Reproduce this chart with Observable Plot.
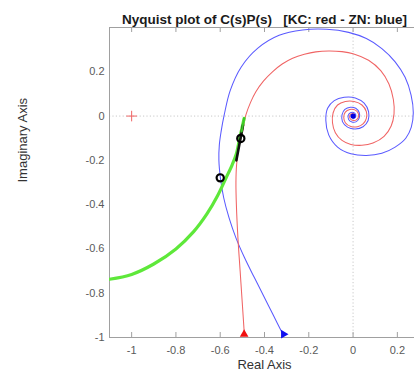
<!DOCTYPE html>
<html><head><meta charset="utf-8">
<script src="https://cdn.jsdelivr.net/npm/d3@7"></script>
<script src="https://cdn.jsdelivr.net/npm/@observablehq/plot@0.6"></script>
<style>body{margin:0;background:#fff} svg{display:block}</style>
</head><body><div id="chart"></div>
<script>
const title = "Nyquist plot of C(s)P(s)   [KC: red - ZN: blue]";
const xLabel = "Real Axis";
const yLabel = "Imaginary Axis";
const xTicks = [-1, -0.8, -0.6, -0.4, -0.2, 0, 0.2];
const yTicks = [-1, -0.8, -0.6, -0.4, -0.2, 0, 0.2];

// KC (red) Nyquist curve, [Re, Im]
const kcCurve = [
  [-0.491,-0.985],[-0.5,-0.85],[-0.51,-0.7],[-0.52,-0.55],[-0.527,-0.4],[-0.529,-0.3],[-0.526,-0.22],
  [-0.516,-0.14],[-0.499,-0.071],[-0.484,0.005],[-0.463,0.062],[-0.439,0.11],[-0.405,0.158],
  [-0.364,0.2],[-0.32,0.235],[-0.273,0.261],[-0.22,0.279],[-0.168,0.29],[-0.11,0.294],[-0.05,0.291],
  [0.0,0.282],[0.07,0.252],[0.125,0.205],[0.162,0.145],[0.182,0.075],[0.185,0.01],[0.172,-0.045],
  [0.14,-0.092],[0.09,-0.122],[0.04,-0.132],[-0.01,-0.128],[-0.05,-0.11],[-0.08,-0.075],[-0.093,-0.03],
  [-0.09,0.015],[-0.07,0.05],[-0.035,0.066],[0.005,0.066],[0.04,0.05],[0.06,0.02],[0.06,-0.01],
  [0.045,-0.035],[0.02,-0.048],[-0.01,-0.047],[-0.035,-0.03],[-0.042,-0.005],[-0.035,0.018],
  [-0.015,0.03],[0.008,0.028],[0.022,0.015],[0.025,-0.003],[0.015,-0.017],[0,-0.02],[-0.013,-0.012],
  [-0.015,0.002],[-0.008,0.01],[0.003,0.01],[0.008,0.002],[0.004,-0.005],[0,0]
];
// ZN (blue) Nyquist curve, [Re, Im]
const znCurve = [
  [-0.317,-0.985],[-0.36,-0.9],[-0.405,-0.81],[-0.447,-0.727],[-0.49,-0.64],[-0.529,-0.55],
  [-0.56,-0.46],[-0.584,-0.37],[-0.599,-0.28],[-0.606,-0.2],[-0.604,-0.13],[-0.596,-0.07],
  [-0.582,0.005],[-0.555,0.115],[-0.505,0.222],[-0.43,0.307],[-0.334,0.365],[-0.228,0.389],
  [-0.12,0.392],[-0.02,0.378],[0.06,0.35],[0.13,0.305],[0.19,0.245],[0.235,0.175],[0.262,0.095],
  [0.272,0.015],[0.263,-0.05],[0.238,-0.1],[0.19,-0.14],[0.13,-0.168],[0.06,-0.178],
  [-0.01,-0.17],[-0.07,-0.14],[-0.11,-0.085],[-0.123,-0.02],[-0.115,0.035],[-0.085,0.07],
  [-0.04,0.085],[0.01,0.082],[0.05,0.058],[0.07,0.02],[0.068,-0.02],[0.045,-0.048],[0.01,-0.058],
  [-0.025,-0.05],[-0.048,-0.025],[-0.05,0.005],[-0.037,0.03],[-0.012,0.04],[0.012,0.035],
  [0.028,0.015],[0.028,-0.008],[0.015,-0.025],[-0.005,-0.027],[-0.02,-0.015],[-0.022,0.003],
  [-0.012,0.015],[0.002,0.016],[0.012,0.006],[0.01,-0.006],[0,-0.009],[-0.006,-0.002],[0,0]
];
// green arc
const greenArc = [
  [-1.1,-0.737],[-1.0,-0.715],[-0.9,-0.668],[-0.8,-0.6],[-0.72,-0.522],[-0.66,-0.442],
  [-0.612,-0.36],[-0.574,-0.28],[-0.546,-0.22],[-0.527,-0.17],[-0.512,-0.1],[-0.492,-0.01]
];
// black segment
const blackSeg = [[-0.527,-0.2],[-0.497,-0.04]];
const greenTop = [[-0.503,-0.07],[-0.492,-0.01]];
// open circle markers
const circlePts = [[-0.507,-0.101],[-0.6,-0.279]];
const startKC = [[-0.492,-0.985]];
const startZN = [[-0.314,-0.985]];
const criticalPt = [[-1,0]];
const origin = [[0,0]];

const RED = "#f06464", BLUE = "#5a5aff";
const chart = Plot.plot({
  width: 414, height: 378,
  marginLeft: 109, marginTop: 27, marginBottom: 41, marginRight: -5,
  style: {fontFamily: "'Liberation Sans', Arial, sans-serif", fontSize: "11px", background: "#fff", color: "#5a5a5a"},
  x: {domain: [-1.1, 0.3]},
  y: {domain: [-1, 0.4]},
  marks: [
    Plot.ruleX([0], {stroke: "#c8c8c8", strokeDasharray: "1.2,2.2"}),
    Plot.ruleY([0], {stroke: "#c8c8c8", strokeDasharray: "1.2,2.2"}),
    Plot.frame({stroke: "#a0a0a0"}),
    Plot.tickX(xTicks, {x: d => d, insetTop: 305, stroke: "#a0a0a0"}),
    Plot.tickX(xTicks, {x: d => d, insetBottom: 305, stroke: "#a0a0a0"}),
    Plot.tickY(yTicks, {y: d => d, insetRight: 310, stroke: "#a0a0a0"}),
    Plot.axisX(xTicks, {tickSize: 0, tickPadding: 9, label: null, tickFormat: d => String(d)}),
    Plot.axisY(yTicks, {tickSize: 0, tickPadding: 5, label: null, tickFormat: d => String(d)}),
    Plot.line(znCurve, {x: d => d[0], y: d => d[1], stroke: BLUE, strokeWidth: 1.05, curve: "catmull-rom", clip: true}),
    Plot.line(kcCurve, {x: d => d[0], y: d => d[1], stroke: RED, strokeWidth: 1.05, curve: "catmull-rom", clip: true}),
    Plot.line(greenArc, {x: d => d[0], y: d => d[1], stroke: "#5ee83a", strokeWidth: 3.2, curve: "catmull-rom", clip: true}),
    Plot.line(blackSeg, {x: d => d[0], y: d => d[1], stroke: "#111", strokeWidth: 2.6}),
    Plot.line(greenTop, {x: d => d[0], y: d => d[1], stroke: "#3cc828", strokeWidth: 2}),
    Plot.dot(circlePts, {x: d => d[0], y: d => d[1], r: 3.6, stroke: "#000", strokeWidth: 2.2, fill: "none"}),
    Plot.dot(startKC, {x: d => d[0], y: d => d[1], symbol: "triangle", r: 3.2, fill: "#f01010", stroke: "none"}),
    Plot.dot(startZN, {x: d => d[0], y: d => d[1], symbol: "triangle", rotate: 90, r: 3.2, fill: "#1010f0", stroke: "none"}),
    Plot.dot(criticalPt, {x: d => d[0], y: d => d[1], symbol: "plus", r: 3.5, stroke: RED, strokeWidth: 1}),
    Plot.dot(origin, {x: d => d[0], y: d => d[1], r: 2.6, fill: "#0000e0", stroke: "none"}),
    Plot.text([title], {frameAnchor: "top", dy: -13, fontWeight: "bold", fontSize: 13.5, fill: "#1a1a1a"}),
    Plot.text([xLabel], {frameAnchor: "bottom", dy: 31, fontSize: 13, fill: "#333"}),
    Plot.text([yLabel], {frameAnchor: "left", dx: -87, rotate: -90, fontSize: 13, fill: "#333"})
  ]
});
document.getElementById("chart").appendChild(chart);
</script></body></html>
